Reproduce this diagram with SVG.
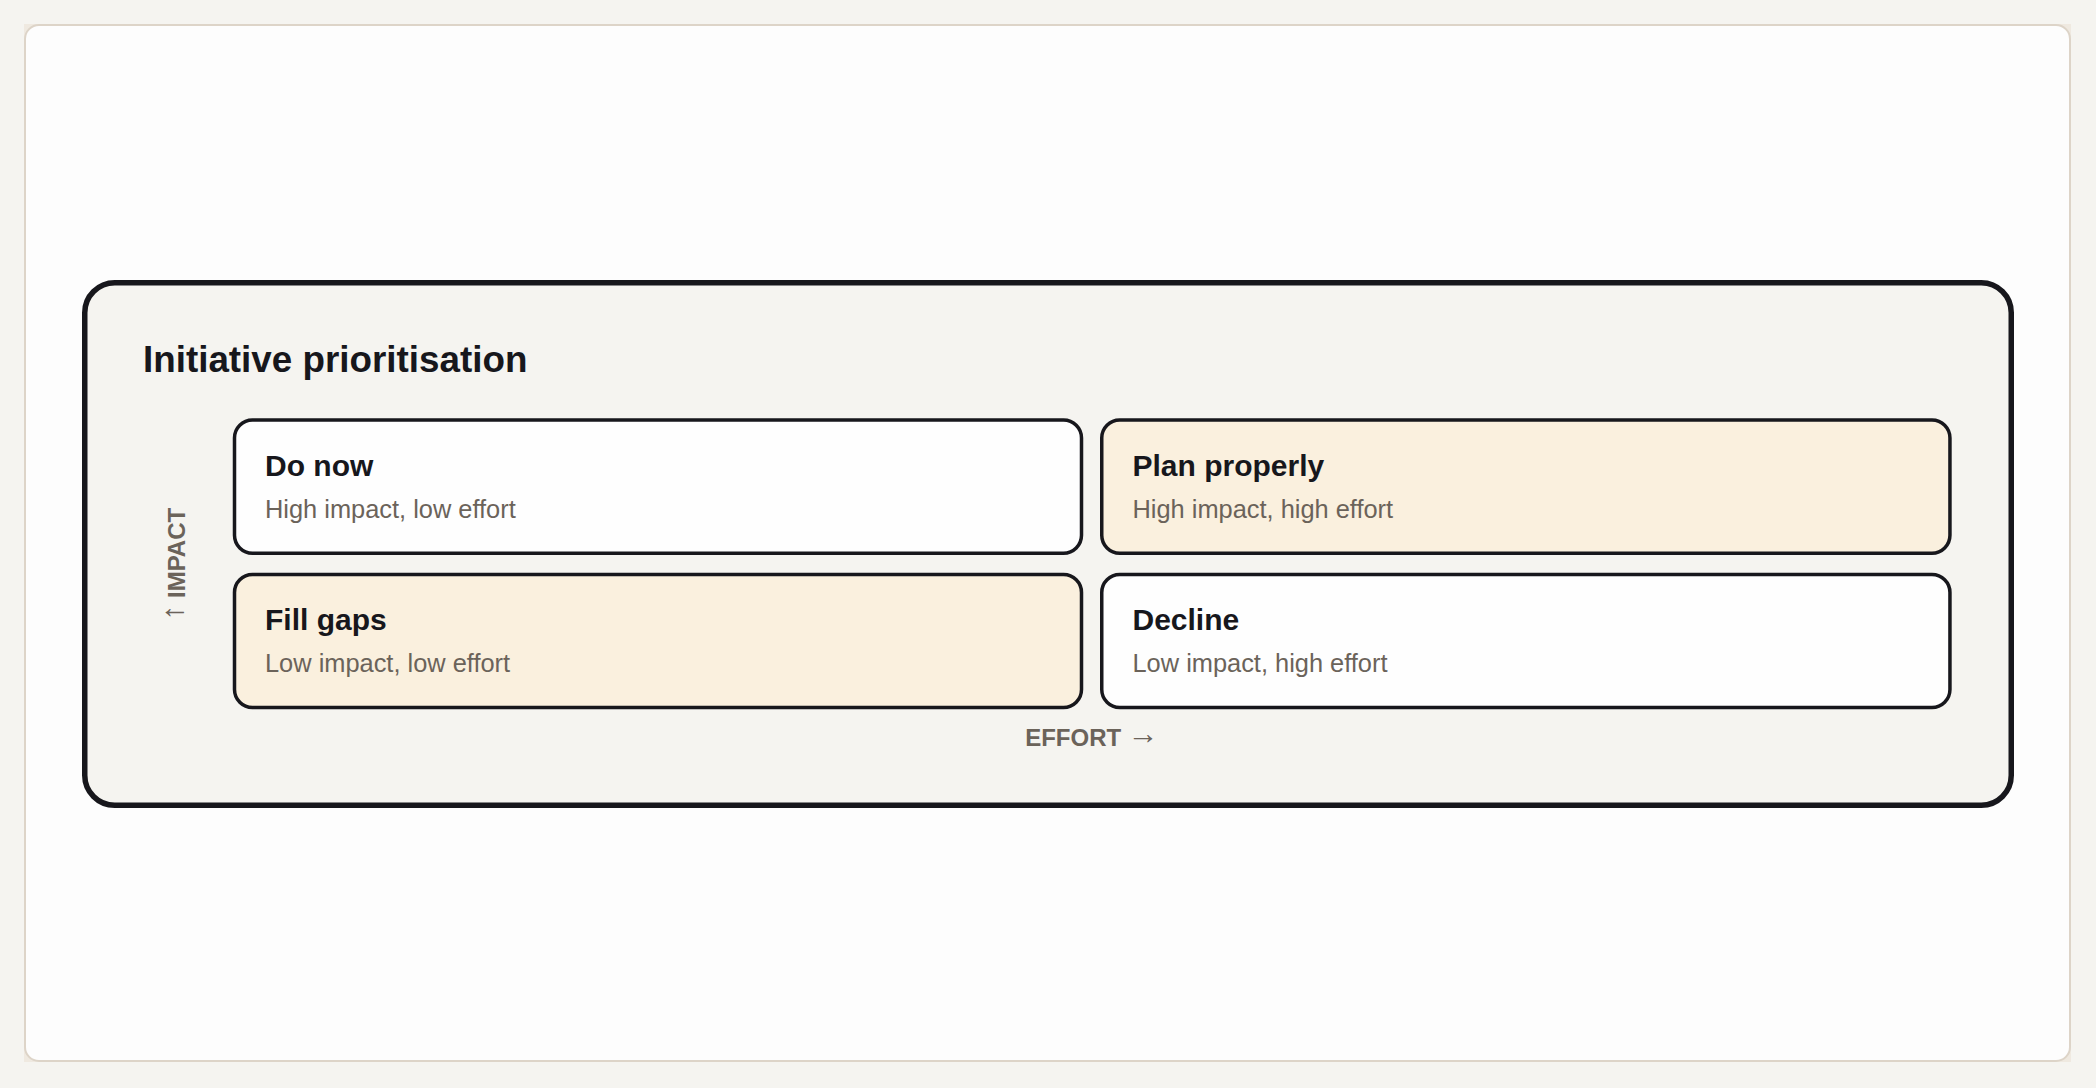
<svg xmlns="http://www.w3.org/2000/svg" width="2096" height="1088" viewBox="0 0 2096 1088">
  <style>
    .box { stroke: #17171c; stroke-width: 3.5; }
    .white { fill: #fefefe; }
    .cream { fill: #faf0de; }
    .head { font-family: "Liberation Sans", Arial, sans-serif; font-weight: bold; font-size: 30px; fill: #17171c; }
    .sub { font-family: "Liberation Sans", Arial, sans-serif; font-size: 25.4px; fill: #6b635a; }
    .axis { font-family: "Liberation Sans", Arial, sans-serif; font-weight: bold; font-size: 24px; fill: #6b635a; }
    .arrow { font-family: "Liberation Sans", Arial, sans-serif; font-weight: normal; font-size: 31px; }
    .title { font-family: "Liberation Sans", Arial, sans-serif; font-weight: bold; font-size: 36.8px; fill: #17171c; }
  </style>
  <rect x="0" y="0" width="2096" height="1088" fill="#f5f4f0"/>
  <rect x="24" y="24" width="2047" height="1038" fill="#efe9e0"/>
  <rect x="25" y="25" width="2045" height="1036" rx="14" fill="#fdfdfd" stroke="#ddd4c8" stroke-width="2"/>

  <g id="container">
    <rect x="84.75" y="282.75" width="1926.5" height="522.5" rx="30" fill="#f5f4f0" stroke="#17171c" stroke-width="5.5"/>
    <text class="title" x="143" y="372">Initiative prioritisation</text>
  </g>

  <g id="do-now">
    <rect class="box white" x="234.5" y="420" width="847" height="133.3" rx="18"/>
    <text class="head" x="265" y="475.5">Do now</text>
    <text class="sub" x="265" y="517.5">High impact, low effort</text>
  </g>

  <g id="plan-properly">
    <rect class="box cream" x="1101.75" y="420" width="848.2" height="133.3" rx="18"/>
    <text class="head" x="1132.5" y="475.5">Plan properly</text>
    <text class="sub" x="1132.5" y="517.5">High impact, high effort</text>
  </g>

  <g id="fill-gaps">
    <rect class="box cream" x="234.5" y="574.5" width="847" height="133.1" rx="18"/>
    <text class="head" x="265" y="630">Fill gaps</text>
    <text class="sub" x="265" y="671.5">Low impact, low effort</text>
  </g>

  <g id="decline">
    <rect class="box white" x="1101.75" y="574.5" width="848.2" height="133.1" rx="18"/>
    <text class="head" x="1132.5" y="630">Decline</text>
    <text class="sub" x="1132.5" y="671.5">Low impact, high effort</text>
  </g>

  <g id="axes">
    <text class="axis" x="1092" y="745.5" text-anchor="middle">EFFORT <tspan class="arrow" dy="-2">→</tspan></text>
    <text class="axis" transform="translate(185 564) rotate(-90)" x="0" y="0" text-anchor="middle"><tspan class="arrow" dy="-2">↑</tspan><tspan dy="2"> IMPACT</tspan></text>
  </g>

  <g id="connectors"></g>
</svg>
